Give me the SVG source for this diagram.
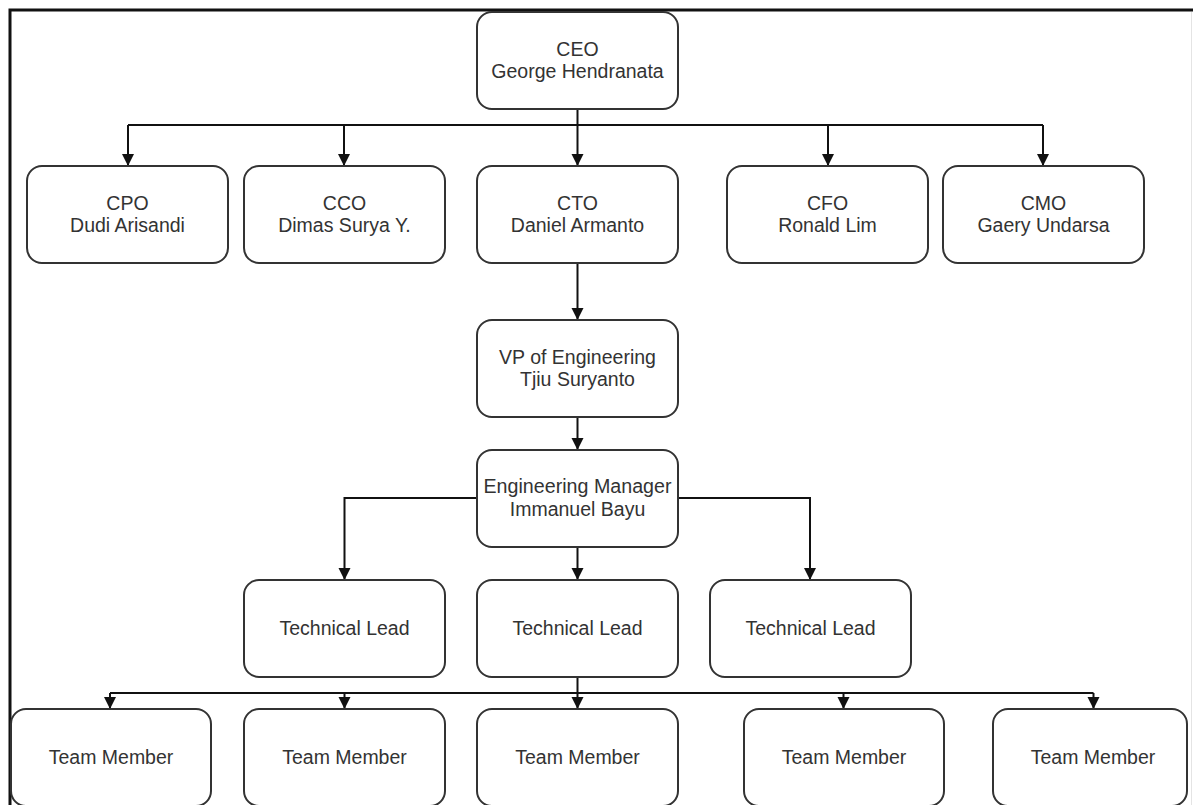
<svg xmlns="http://www.w3.org/2000/svg" width="1193" height="805" viewBox="0 0 1193 805">
<style>
.box{fill:#fff;stroke:#333;stroke-width:2}
.t{font-family:"Liberation Sans",Arial,sans-serif;font-size:19.5px;fill:#333;text-anchor:middle}
.c{fill:none;stroke:#111;stroke-width:2}
</style>
<defs>
<marker id="ah" markerUnits="userSpaceOnUse" markerWidth="12" markerHeight="14" refX="12" refY="6" orient="auto" viewBox="0 0 12 12">
<path d="M0,0 L12,6 L0,12 Z" fill="#111"/>
</marker>
</defs>
<rect width="1193" height="805" fill="#fff"/>
<g id="frame">
<path d="M10,805 V10 H1193" fill="none" stroke="#111" stroke-width="3"/>
<line x1="1191.5" y1="12" x2="1191.5" y2="805" stroke="#e4e4e4" stroke-width="1"/>
</g>
<g id="connectors">
<path class="c" d="M577.5,109 V125"/>
<path class="c" d="M128,125 H1043"/>
<path class="c" d="M128,125 V166" marker-end="url(#ah)"/>
<path class="c" d="M344,125 V166" marker-end="url(#ah)"/>
<path class="c" d="M577.5,125 V166" marker-end="url(#ah)"/>
<path class="c" d="M828,125 V166" marker-end="url(#ah)"/>
<path class="c" d="M1043,125 V166" marker-end="url(#ah)"/>
<path class="c" d="M577.5,263 V320" marker-end="url(#ah)"/>
<path class="c" d="M577.5,417 V450" marker-end="url(#ah)"/>
<path class="c" d="M477,498 H344.5 V580" marker-end="url(#ah)"/>
<path class="c" d="M678,498 H810 V580" marker-end="url(#ah)"/>
<path class="c" d="M577.5,547 V580" marker-end="url(#ah)"/>
<path class="c" d="M577.5,677 V693"/>
<path class="c" d="M110,693 H1093.5"/>
<path class="c" d="M110,693 V709" marker-end="url(#ah)"/>
<path class="c" d="M344.5,693 V709" marker-end="url(#ah)"/>
<path class="c" d="M577.5,693 V709" marker-end="url(#ah)"/>
<path class="c" d="M843.5,693 V709" marker-end="url(#ah)"/>
<path class="c" d="M1093.5,693 V709" marker-end="url(#ah)"/>
</g>
<g id="ceo"><rect class="box" x="477" y="12" width="201" height="97" rx="15"/><text class="t" x="577.5" y="56">CEO</text><text class="t" x="577.5" y="78">George Hendranata</text></g>
<g id="cpo"><rect class="box" x="27" y="166" width="201" height="97" rx="15"/><text class="t" x="127.5" y="210">CPO</text><text class="t" x="127.5" y="232">Dudi Arisandi</text></g>
<g id="cco"><rect class="box" x="244" y="166" width="201" height="97" rx="15"/><text class="t" x="344.5" y="210">CCO</text><text class="t" x="344.5" y="232">Dimas Surya Y.</text></g>
<g id="cto"><rect class="box" x="477" y="166" width="201" height="97" rx="15"/><text class="t" x="577.5" y="210">CTO</text><text class="t" x="577.5" y="232">Daniel Armanto</text></g>
<g id="cfo"><rect class="box" x="727" y="166" width="201" height="97" rx="15"/><text class="t" x="827.5" y="210">CFO</text><text class="t" x="827.5" y="232">Ronald Lim</text></g>
<g id="cmo"><rect class="box" x="943" y="166" width="201" height="97" rx="15"/><text class="t" x="1043.5" y="210">CMO</text><text class="t" x="1043.5" y="232">Gaery Undarsa</text></g>
<g id="vp"><rect class="box" x="477" y="320" width="201" height="97" rx="15"/><text class="t" x="577.5" y="364">VP of Engineering</text><text class="t" x="577.5" y="386">Tjiu Suryanto</text></g>
<g id="em"><rect class="box" x="477" y="450" width="201" height="97" rx="15"/><text class="t" x="577.5" y="493" textLength="188" lengthAdjust="spacingAndGlyphs">Engineering Manager</text><text class="t" x="577.5" y="516">Immanuel Bayu</text></g>
<g id="tl1"><rect class="box" x="244" y="580" width="201" height="97" rx="15"/><text class="t" x="344.5" y="635">Technical Lead</text></g>
<g id="tl2"><rect class="box" x="477" y="580" width="201" height="97" rx="15"/><text class="t" x="577.5" y="635">Technical Lead</text></g>
<g id="tl3"><rect class="box" x="710" y="580" width="201" height="97" rx="15"/><text class="t" x="810.5" y="635">Technical Lead</text></g>
<g id="tm1"><rect class="box" x="11" y="709" width="200" height="97" rx="15"/><text class="t" x="111" y="764">Team Member</text></g>
<g id="tm2"><rect class="box" x="244" y="709" width="201" height="97" rx="15"/><text class="t" x="344.5" y="764">Team Member</text></g>
<g id="tm3"><rect class="box" x="477" y="709" width="201" height="97" rx="15"/><text class="t" x="577.5" y="764">Team Member</text></g>
<g id="tm4"><rect class="box" x="744" y="709" width="200" height="97" rx="15"/><text class="t" x="844" y="764">Team Member</text></g>
<g id="tm5"><rect class="box" x="993" y="709" width="194" height="97" rx="15"/><text class="t" x="1093" y="764">Team Member</text></g>
</svg>
